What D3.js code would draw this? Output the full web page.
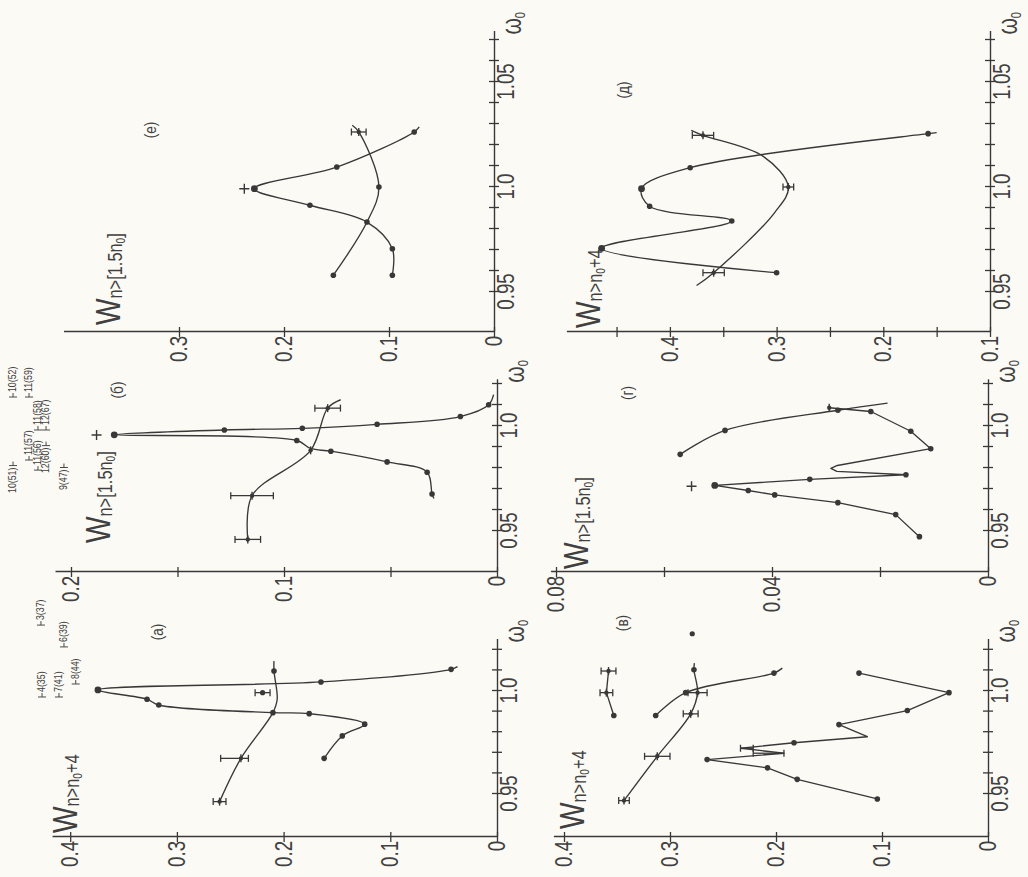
<!DOCTYPE html>
<html>
<head>
<meta charset="utf-8">
<script src="https://cdn.jsdelivr.net/npm/d3@7"></script>
<style>
  html, body { margin: 0; padding: 0; background: #fbfaf5; }
  svg { display: block; }
  text { font-family: "Liberation Sans", "DejaVu Sans", Arial, sans-serif; fill: #404040; }
</style>
</head>
<body>
<svg id="fig" width="1028" height="877"></svg>
<script>
// ---------- data: relative frequency ω/ω0 and probability W ----------
// point marks: "•" measured point, "o" turning point, "+" point with error bar, "" line only

// (а) W n>n0+4
const a_peak = [[0.9673,0.162,"•"],[0.9782,0.145,"•"],[0.9839,0.124,"•"],[0.9890,0.176,"•"],[0.9895,0.210,"•"],
  [0.9932,0.317,"•"],[0.9960,0.328,"•"],[1.0005,0.374,"o"],[1.0044,0.165,"•"],[1.0105,0.043,"•"],[1.0118,0.037,""]];
const a_trend = [[0.9463,0.260,"+"],[0.9673,0.240,"+"],[0.9895,0.210,""],[0.9960,0.206,""],[1.0097,0.209,"•"],[1.0145,0.209,""]];
const a_errors = [[0.9463,0.260,0.006],[0.9673,0.246,0.013],[0.9992,0.2197,0.007]];
const a_points = [[0.9992,0.2197]];
// level labels: [ω, W, text, side of the bar mark]
const a_notes = [[0.9971,0.4236,"4(35)","before"],[0.9971,0.4077,"7(41)","before"],[1.0034,0.392,"8(44)","before"],
  [1.0214,0.403,"6(39)","before"],[1.032,0.4246,"3(37)","before"]];

// (б) W n>[1.5 n0]
const b_peak = [[0.9655,0.0296,""],[0.9676,0.0305,"•"],[0.978,0.0328,"•"],[0.9829,0.0516,"•"],[0.988,0.078,"•"],[0.9893,0.0875,""],
  [0.9931,0.094,"•"],[0.9958,0.1797,"o"],[0.9981,0.128,"•"],[0.9989,0.0914,"•"],[1.0008,0.0563,"•"],[1.0045,0.0172,"•"],[1.0101,0.0039,"•"],[1.0149,0.0016,""]];
const b_trend = [[0.946,0.117,"+"],[0.9668,0.115,"+"],[0.9884,0.0875,"+"],[1.0085,0.0795,"+"],[1.0125,0.0734,""]];
const b_errors = [[0.946,0.117,0.006],[0.9668,0.115,0.010],[1.0085,0.0795,0.006]];
const b_crosses = [[0.9957,0.188]];
const b_notes = [[1.0138,0.2258,"10(52)","before"],[0.9681,0.2258,"10(51)","after"],[0.9838,0.2183,"11(57)","before"],
  [1.0138,0.2183,"11(59)","before"],[0.979,0.2141,"11(56)","before"],[0.9981,0.2141,"11(58)","before"],
  [0.9776,0.2103,"12(60)","after"],[0.9981,0.2103,"12(67)","before"],[0.9695,0.2019,"9(47)","after"]];

// (е) W n>[1.5 n0]
const e_trend = [[0.958,0.153,"•"],[0.9833,0.121,"•"],[1.0,0.1096,"•"],[1.0262,0.1288,"+"],[1.0294,0.135,""]];
const e_peak = [[0.958,0.0968,"•"],[0.9706,0.0968,"•"],[0.9833,0.121,""],[0.9913,0.1753,"•"],[0.9992,0.2282,"o"],
  [1.0095,0.1497,"•"],[1.0262,0.076,"•"],[1.0286,0.0712,""]];
const e_errors = [[1.0262,0.1288,0.007]];
const e_crosses = [[0.9992,0.2378]];

// (в) W n>n0+4
const c_zigzag = [[0.9476,0.1044,"•"],[0.9571,0.180,"•"],[0.9627,0.208,"•"],[0.9667,0.265,"•"],[0.9698,0.1925,""],[0.9722,0.2333,""],
  [0.9749,0.183,"•"],[0.9778,0.1138,""],[0.9837,0.1406,"•"],[0.9905,0.0761,"•"],[0.9992,0.0368,"•"],[1.0087,0.1217,"•"]];
const c_zigzagErrors = [[0.9698,0.207,0.0145],[0.9722,0.2275,0.006]];
const c_trend = [[0.9468,0.3434,"+"],[0.9683,0.312,"+"],[0.9889,0.2805,"+"],[0.9992,0.274,"+"],[1.0103,0.2774,"•"],[1.0135,0.277,""]];
const c_trendErrors = [[0.9468,0.3434,0.005],[0.9683,0.312,0.012],[0.9889,0.2805,0.007],[0.9992,0.274,0.009]];
const c_hook = [[0.9881,0.3135,"•"],[0.9992,0.2852,"•"],[1.0087,0.2019,"•"],[1.0111,0.194,""]];
const c_level = [[0.9881,0.353,"•"],[0.9992,0.360,"+"],[1.0097,0.358,"+"]];
const c_levelErrors = [[0.9992,0.360,0.006],[1.0097,0.358,0.007]];
const c_points = [[1.0278,0.279]];

// (г) W n>[1.5 n0]
const d_zigzag = [[0.9473,0.0127,"•"],[0.9578,0.0171,"•"],[0.9635,0.0278,"•"],[0.9672,0.0395,"•"],[0.9693,0.0444,"•"],[0.9717,0.0506,"o"],
  [0.9746,0.033,"•"],[0.9768,0.0152,"•"],[0.9784,0.0280,""],[0.9798,0.0291,""],[0.9812,0.0279,""],[0.9892,0.0106,"•"],
  [0.9975,0.0143,"•"],[1.0069,0.0217,"•"],[1.0087,0.0294,"+"]];
const d_hook = [[0.9865,0.057,"•"],[0.9979,0.0487,"•"],[1.0075,0.0278,"•"],[1.0109,0.0186,""]];
const d_crosses = [[0.9713,0.0549]];

// (д) W n>n0+4
const f_wave = [[0.9592,0.300,"•"],[0.9708,0.464,"o"],[0.9838,0.342,"•"],[0.9908,0.419,"•"],[0.9992,0.4266,"o"],
  [1.0092,0.381,"•"],[1.0254,0.158,"•"],[1.0259,0.150,""]];
const f_bowl = [[0.9531,0.375,""],[0.9592,0.359,"+"],[0.9877,0.302,""],[1.0,0.289,"+"],[1.0146,0.3125,""],[1.0246,0.369,"+"],[1.027,0.38,""]];
const f_errors = [[0.9592,0.359,0.010],[1.0,0.289,0.005],[1.0246,0.369,0.010]];

// ---------- axis ticks and labels ----------
const omegaTicksShort = [0.95,0.96,0.97,0.98,0.99,1.00,1.01,1.02];
const omegaTicksLong = [0.95,0.96,0.97,0.98,0.99,1.00,1.01,1.02,1.03,1.04,1.05,1.06,1.07];
const omegaTickLabels = [[0.95,"0.95"],[1.0,"1.0"],[1.05,"1.05"]];
const a_yTicks = [0,0.1,0.2,0.3,0.4],  a_yLabels = ["0","0.1","0.2","0.3","0.4"];
const b_yTicks = [0,0.05,0.1,0.15,0.2], b_yLabels = ["0","","0.1","","0.2"];
const e_yTicks = [0,0.1,0.2,0.3], e_yLabels = ["0","0.1","0.2","0.3"];
const c_yTicks = [0,0.1,0.2,0.3,0.4], c_yLabels = ["0","0.1","0.2","0.3","0.4"];
const d_yTicks = [0,0.02,0.04,0.06,0.08], d_yLabels = ["0","","0.04","","0.08"];
const f_yTicks = [0.1,0.15,0.2,0.25,0.3,0.35,0.4,0.45], f_yLabels = ["0.1","","0.2","","0.3","","0.4",""];
const titlePlus4 = ["W","n>n","0","+4"];
const titleHalf = ["W","n>[1.5n","0","]"];

// ---------- layout (upright sheet 877 x 1028, turned left onto the page) ----------
const PAGE_W = 1028, PAGE_H = 877;
const ink = "#383838", faint = "#b9b3a2";
const columns = [
  {axis: 40,  at095: 83,  at100: 186, end: 1.025, ticks: omegaTicksShort},
  {axis: 305, at095: 346, at100: 451, end: 1.022, ticks: omegaTicksShort},
  {axis: 545, at095: 585, at100: 690, end: 1.074, ticks: omegaTicksLong}
];
const panels = [
  {letter:"(а)", col:0, base:497, v0:0, vTop:0.417, px:1067, yTicks:a_yTicks, yLabels:a_yLabels, title:titlePlus4, titleAt:[44,77], letterAt:[245,163],
   lines:[{d:a_peak},{d:a_trend}], errors:[a_errors], crosses:[], points:a_points, notes:a_notes},
  {letter:"(б)", col:1, base:497, v0:0, vTop:0.2075, px:2130, yTicks:b_yTicks, yLabels:b_yLabels, title:titleHalf, titleAt:[334,110], letterAt:[487,123],
   lines:[{d:b_peak},{d:b_trend}], errors:[b_errors], crosses:b_crosses, points:[], notes:b_notes},
  {letter:"(е)", col:2, base:494, v0:0, vTop:0.41, px:1050, yTicks:e_yTicks, yLabels:e_yLabels, title:titleHalf, titleAt:[552,120], letterAt:[747,156],
   lines:[{d:e_trend},{d:e_peak}], errors:[e_errors], crosses:e_crosses, points:[], notes:[]},
  {letter:"(в)", col:0, base:988, v0:0, vTop:0.41, px:1060, yTicks:c_yTicks, yLabels:c_yLabels, title:titlePlus4, titleAt:[48,584], letterAt:[254,628],
   lines:[{d:c_zigzag, straight:true},{d:c_trend},{d:c_hook},{d:c_level, straight:true}], errors:[c_zigzagErrors,c_trendErrors,c_levelErrors],
   crosses:[], points:c_points, notes:[]},
  {letter:"(г)", col:1, base:988, v0:0, vTop:0.081, px:5400, yTicks:d_yTicks, yLabels:d_yLabels, title:titleHalf, titleAt:[308,588], letterAt:[484,633],
   lines:[{d:d_zigzag, straight:true},{d:d_hook}], errors:[], crosses:d_crosses, points:[], notes:[], faintOmega:true},
  {letter:"(д)", col:2, base:990, v0:0.1, vTop:0.497, px:1067, yTicks:f_yTicks, yLabels:f_yLabels, title:titlePlus4, titleAt:[549,600], letterAt:[787,629],
   lines:[{d:f_wave},{d:f_bowl}], errors:[f_errors], crosses:[], points:[], notes:[], faintBase:true}
];

const svg = d3.select("#fig");
svg.append("rect").attr("width", PAGE_W).attr("height", PAGE_H).attr("fill", "#fbfaf5");
const sheet = svg.append("g").attr("transform", `translate(0,${PAGE_H}) rotate(-90)`);

const SQ = 0.78; // narrow plotter lettering

function freeText(parent, x, y, size, anchor, k) {
  return parent.append("text")
    .attr("transform", `translate(${x},${y}) scale(${k},1)`)
    .attr("font-size", size).attr("text-anchor", anchor);
}

// small error-bar sign drawn next to a level label
function barMark(parent, x, y) {
  parent.append("path")
    .attr("d", `M${x},${y - 7}V${y + 1}M${x},${y - 3}H${x + 4}`)
    .attr("stroke", "#4a4a4a").attr("stroke-width", 1).attr("fill", "none");
}

panels.forEach(p => {
  const col = columns[p.col];
  const ref = d3.scaleLinear().domain([0.95, 1.0]).range([col.at095, col.at100]);
  const x = d3.scaleLinear().domain([ref.invert(col.axis), col.end]).range([col.axis, ref(col.end)]);
  const y = d3.scaleLinear().domain([p.v0, p.vTop]).range([p.base, p.base - (p.vTop - p.v0) * p.px]);
  const gp = sheet.append("g");

  // ω axis
  const xLabel = d => { const f = omegaTickLabels.find(t => Math.abs(t[0] - d) < 1e-6); return f ? f[1] : ""; };
  const gx = gp.append("g").attr("transform", `translate(0,${p.base})`)
    .call(d3.axisBottom(x).tickValues(col.ticks).tickFormat(xLabel).tickSizeInner(5).tickSizeOuter(0).tickPadding(-2));
  // W axis
  const yLabel = d => p.yLabels[p.yTicks.findIndex(t => Math.abs(t - d) < 1e-9)];
  const gy = gp.append("g").attr("transform", `translate(${col.axis},0)`)
    .call(d3.axisLeft(y).tickValues(p.yTicks).tickFormat(yLabel).tickSizeInner(5).tickSizeOuter(0).tickPadding(0));

  [gx, gy].forEach(ax => {
    ax.attr("font-size", null).attr("font-family", null);
    ax.select(".domain").attr("stroke", ink).attr("stroke-width", 1.4);
    ax.selectAll(".tick line").attr("stroke", ink).attr("stroke-width", 1.3);
    ax.selectAll(".tick text").attr("font-size", 24).attr("fill", "#444").attr("transform", `scale(${SQ},1)`);
  });
  gx.selectAll(".tick line").attr("y1", -5);
  gy.selectAll(".tick line").attr("x1", 5);
  if (p.faintOmega) gx.selectAll(".tick text").attr("fill", faint);
  if (p.faintBase) gy.selectAll(".tick text").filter(d => Math.abs(d - p.v0) < 1e-9).attr("fill", faint);

  // ω0 at the end of the frequency axis
  const om = freeText(gp, x(col.end) - 3, p.base + 27, 27, "start", SQ).attr("fill", p.faintOmega ? faint : "#444");
  om.append("tspan").text("ω");
  om.append("tspan").attr("font-size", 14).attr("dy", 4).text("0");

  // axis title W with subscript
  const tt = freeText(gp, p.titleAt[0], p.titleAt[1], 36, "start", SQ).attr("fill", "#444");
  tt.append("tspan").text(p.title[0]);
  tt.append("tspan").attr("font-size", 21).attr("dy", 2).text(p.title[1]);
  tt.append("tspan").attr("font-size", 13).attr("dy", 3).text(p.title[2]);
  tt.append("tspan").attr("font-size", 21).attr("dy", -3).text(p.title[3]);

  // panel letter
  freeText(gp, p.letterAt[0], p.letterAt[1], 16, "middle", 0.85).attr("fill", "#444").text(p.letter);

  // curves
  p.lines.forEach(s => {
    const gen = d3.line().x(d => x(d[0])).y(d => y(d[1]))
      .curve(s.straight ? d3.curveLinear : d3.curveCatmullRom.alpha(0.5));
    gp.append("path").datum(s.d).attr("d", gen).attr("fill", "none")
      .attr("stroke", ink).attr("stroke-width", 1.35).attr("stroke-linejoin", "round");
    s.d.filter(d => d[2] === "•" || d[2] === "o").forEach(d => {
      gp.append("circle").attr("cx", x(d[0])).attr("cy", y(d[1])).attr("r", d[2] === "o" ? 3.4 : 2.8).attr("fill", ink);
    });
    s.d.filter(d => d[2] === "+").forEach(d => {
      gp.append("circle").attr("cx", x(d[0])).attr("cy", y(d[1])).attr("r", 2.2).attr("fill", ink);
      gp.append("line").attr("x1", x(d[0]) - 4).attr("x2", x(d[0]) + 4).attr("y1", y(d[1])).attr("y2", y(d[1]))
        .attr("stroke", ink).attr("stroke-width", 1.4);
    });
  });

  // error bars
  p.errors.forEach(set => set.forEach(e => {
    const cx = x(e[0]), lo = y(e[1] - e[2]), hi = y(e[1] + e[2]);
    gp.append("line").attr("x1", cx).attr("x2", cx).attr("y1", lo).attr("y2", hi).attr("stroke", ink).attr("stroke-width", 1.3);
    [lo, hi].forEach(v => gp.append("line").attr("x1", cx - 3.5).attr("x2", cx + 3.5).attr("y1", v).attr("y2", v)
      .attr("stroke", ink).attr("stroke-width", 1.3));
  }));

  // single crosses and dots
  p.crosses.forEach(c => {
    const cx = x(c[0]), cy = y(c[1]);
    gp.append("path").attr("d", `M${cx - 5},${cy}H${cx + 5}M${cx},${cy - 5}V${cy + 5}`).attr("stroke", ink).attr("stroke-width", 1.4);
  });
  p.points.forEach(c => gp.append("circle").attr("cx", x(c[0])).attr("cy", y(c[1])).attr("r", 2.6).attr("fill", ink));

  // level labels n(N) with their bar sign
  p.notes.forEach(n => {
    const px = x(n[0]), py = y(n[1]);
    if (n[3] === "before") {
      barMark(gp, px, py);
      freeText(gp, px + 5, py, 11, "start", 0.8).attr("fill", "#4a4a4a").text(n[2]);
    } else {
      const t = freeText(gp, px, py, 11, "start", 0.8).attr("fill", "#4a4a4a").text(n[2]);
      barMark(gp, px + t.node().getComputedTextLength() * 0.8 + 2, py);
    }
  });
});
</script>
</body>
</html>
